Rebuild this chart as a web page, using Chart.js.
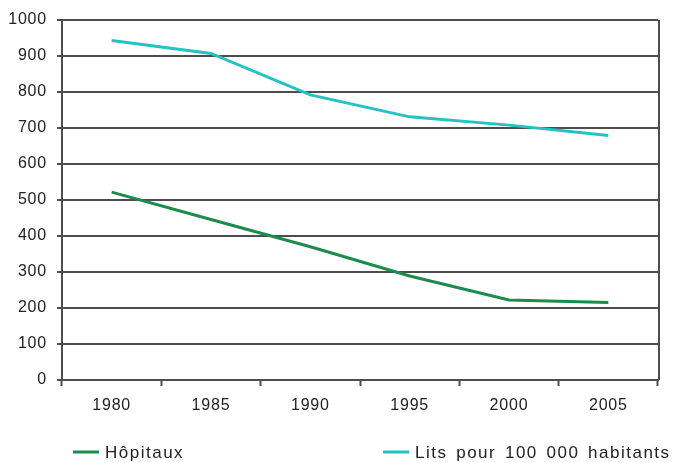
<!DOCTYPE html>
<html>
<head>
<meta charset="utf-8">
<script src="https://cdn.jsdelivr.net/npm/chart.js@4/dist/chart.umd.min.js"></script>
<style>
  html, body { margin: 0; padding: 0; background: #fff; }
  #wrap { width: 677px; height: 463px; position: relative; }
</style>
</head>
<body>
<div id="wrap"><canvas id="c" width="677" height="463"></canvas></div>
<script>
// Years on the horizontal axis
const years = ['1980', '1985', '1990', '1995', '2000', '2005'];
// Number of hospitals
const hopitaux = [522, 446, 370, 289, 222, 215];
// Hospital beds per 100 000 inhabitants
const lits = [943, 907, 792, 731, 708, 679];
// Series names
const seriesNames = ['Hôpitaux', 'Lits pour 100 000 habitants'];
const seriesColors = ['#1b8c4c', '#25c2c4'];

const FONT = '"Liberation Sans", Arial, sans-serif';
const GRID = '#4d4d4d';

// Slightly wider tick lettering
const spacingPlugin = {
  id: 'tickSpacing',
  beforeDraw(chart) { chart.ctx.letterSpacing = '0.8px'; },
  afterDatasetsDraw(chart) { chart.ctx.letterSpacing = '0px'; }
};

// Right-hand frame line of the plot area and the bottom legend
const framePlugin = {
  id: 'frameAndLegend',
  afterDraw(chart) {
    const { ctx, chartArea } = chart;
    ctx.save();
    ctx.strokeStyle = GRID;
    ctx.lineWidth = 2;
    ctx.beginPath();
    ctx.moveTo(chartArea.right + 1, chartArea.top);
    ctx.lineTo(chartArea.right + 1, chartArea.bottom);
    ctx.stroke();

    // legend
    const starts = [73, 383];
    const y = 452;
    ctx.font = '17px ' + FONT;
    ctx.letterSpacing = '1.5px';
    ctx.wordSpacing = '2.5px';
    ctx.textBaseline = 'middle';
    ctx.fillStyle = '#222';
    chart.data.datasets.forEach((ds, i) => {
      const x = starts[i];
      ctx.strokeStyle = ds.borderColor;
      ctx.lineWidth = 3;
      ctx.beginPath();
      ctx.moveTo(x, y);
      ctx.lineTo(x + 26, y);
      ctx.stroke();
      ctx.fillText(ds.label, x + 32, y + 1);
    });
    ctx.restore();
  }
};

new Chart(document.getElementById('c'), {
  type: 'line',
  data: {
    labels: years,
    datasets: [
      { label: seriesNames[0], data: hopitaux, borderColor: seriesColors[0], borderWidth: 3, pointRadius: 0, tension: 0, fill: false },
      { label: seriesNames[1], data: lits, borderColor: seriesColors[1], borderWidth: 3, pointRadius: 0, tension: 0, fill: false }
    ]
  },
  options: {
    responsive: false,
    animation: false,
    devicePixelRatio: 1,
    layout: { padding: { top: 20, right: 19, bottom: 40, left: 0 } },
    plugins: { legend: { display: false }, tooltip: { enabled: false } },
    scales: {
      x: {
        type: 'category',
        offset: true,
        grid: { offset: true, drawOnChartArea: false, drawTicks: true, tickLength: 6, tickColor: GRID, tickWidth: 2 },
        border: { color: GRID, width: 2 },
        ticks: { color: '#222', font: { family: FONT, size: 16 }, padding: 10, maxRotation: 0 },
        afterFit(scale) { scale.height = 43; }
      },
      y: {
        min: 0,
        max: 1000,
        ticks: {
          stepSize: 100, color: '#222', font: { family: FONT, size: 16 }, padding: 10,
          callback: (v) => String(v)
        },
        grid: { color: GRID, lineWidth: 2, tickLength: 5, tickColor: GRID, tickWidth: 2 },
        border: { color: GRID, width: 2 },
        afterFit(scale) { scale.width = 62; }
      }
    }
  },
  plugins: [spacingPlugin, framePlugin]
});
</script>
</body>
</html>
